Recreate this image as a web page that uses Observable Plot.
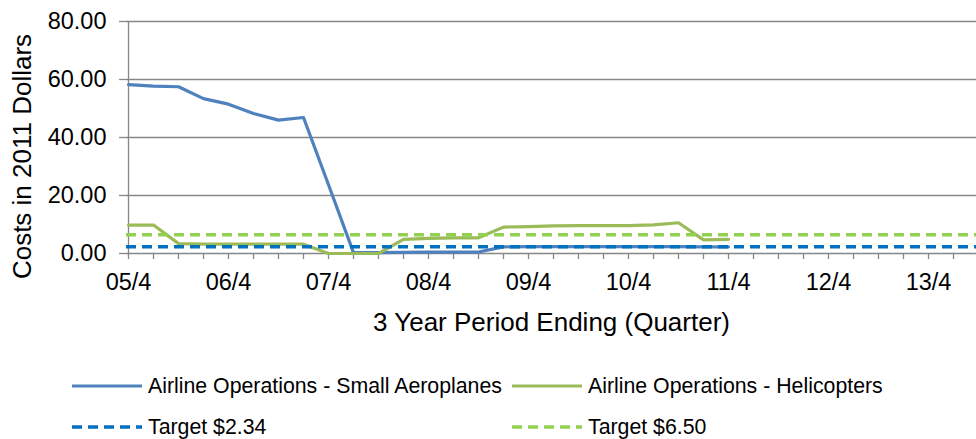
<!DOCTYPE html>
<html>
<head>
<meta charset="utf-8">
<script src="https://cdn.jsdelivr.net/npm/d3@7"></script>
<script src="https://cdn.jsdelivr.net/npm/@observablehq/plot@0.6"></script>
<style>
  html, body { margin: 0; padding: 0; background: #fff; }
  #wrap { position: relative; width: 976px; height: 439px; overflow: hidden; background: #fff;
          font-family: "Liberation Sans", Arial, sans-serif; color: #000; }
  #chart { position: absolute; left: 0; top: 0; }
  .leg { position: absolute; display: flex; align-items: center; font-size: 21.3px; white-space: nowrap; }
  .leg svg { margin-right: 6px; }
</style>
</head>
<body>
<div id="wrap">
  <div id="chart"></div>
  <div id="legend"></div>
</div>
<script>
// Quarter categories (3 year period ending)
const categories = [
  "05/4","06/1","06/2","06/3","06/4","07/1","07/2","07/3","07/4",
  "08/1","08/2","08/3","08/4","09/1","09/2","09/3","09/4",
  "10/1","10/2","10/3","10/4","11/1","11/2","11/3","11/4",
  "12/1","12/2","12/3","12/4","13/1","13/2","13/3","13/4","14/1","14/2"
];
// Labelled x ticks
const xTickLabels = ["05/4","06/4","07/4","08/4","09/4","10/4","11/4","12/4","13/4"];
// Airline Operations - Small Aeroplanes (05/4 .. 11/4)
const smallAeroplanes = [58.2, 57.7, 57.5, 53.4, 51.5, 48.3, 46.0, 46.9, 23.7,
  0.3, 0.3, 0.4, 0.5, 0.5, 0.5, 2.3, 2.4, 2.4, 2.4, 2.4, 2.4, 2.4, 2.4, 2.3, 2.3];
// Airline Operations - Helicopters (05/4 .. 11/4)
const helicopters = [9.8, 9.8, 3.4, 3.2, 3.2, 3.2, 3.2, 3.2, 0.0,
  0.0, 0.0, 4.9, 5.2, 5.4, 5.4, 9.1, 9.3, 9.5, 9.6, 9.6, 9.6, 9.9, 10.6, 4.7, 4.9];
// Targets
const targetSmall = 2.34;
const targetHeli = 6.50;
const yTicks = [0, 20, 40, 60, 80];
const seriesNames = ["Airline Operations - Small Aeroplanes", "Airline Operations - Helicopters", "Target $2.34", "Target $6.50"];
const colors = ["#4F81BD", "#9BBB59", "#0070C0", "#92D050"];

const grid = "#868686";
const font = '"Liberation Sans", Arial, sans-serif';

const plot = Plot.plot({
  width: 976,
  height: 345,
  marginLeft: 126,
  marginRight: 0,
  marginTop: 21,
  marginBottom: 92,
  style: {fontFamily: font, background: "white", overflow: "hidden", color: "#000"},
  x: {type: "point", domain: categories, range: [126, 979], padding: 0},
  y: {domain: [0, 80]},
  marks: [
    Plot.gridY({ticks: yTicks, stroke: grid, strokeOpacity: 1, strokeWidth: 1.3}),
    Plot.ruleX([categories[0]], {stroke: grid, strokeWidth: 1.3}),
    Plot.axisY({ticks: yTicks, tickFormat: () => "", tickSize: 7, stroke: grid, strokeWidth: 1.3, label: null}),
    Plot.axisX({tickFormat: () => "", tickSize: 6, stroke: grid, strokeWidth: 1.3, label: null}),
    Plot.text(yTicks, {y: d => d, text: d => d.toFixed(2), frameAnchor: "left", textAnchor: "end", lineAnchor: "middle", dx: -20, fontSize: 23.5, fill: "#000"}),
    Plot.text(xTickLabels, {x: d => d, text: d => d, frameAnchor: "bottom", textAnchor: "middle", lineAnchor: "middle", dy: 29, fontSize: 23.5, fill: "#000"}),
    Plot.line(smallAeroplanes, {x: (d, i) => categories[i], y: d => d, stroke: colors[0], strokeWidth: 3.2}),
    Plot.line(helicopters, {x: (d, i) => categories[i], y: d => d, stroke: colors[1], strokeWidth: 3.2}),
    Plot.ruleY([targetSmall], {stroke: colors[2], strokeWidth: 3.5, strokeDasharray: "10 6"}),
    Plot.ruleY([targetHeli], {stroke: colors[3], strokeWidth: 3.5, strokeDasharray: "10 6"}),
    Plot.text(["Costs in 2011 Dollars"], {frameAnchor: "left", rotate: -90, textAnchor: "middle", lineAnchor: "middle", dx: -103.5, dy: 19, fontSize: 26, fill: "#000"}),
    Plot.text(["3 Year Period Ending (Quarter)"], {frameAnchor: "bottom", textAnchor: "middle", lineAnchor: "middle", dy: 69, fontSize: 26, fill: "#000"})
  ]
});
document.getElementById("chart").appendChild(plot);

// Legend (HTML, below the plot)
const legendPos = [
  {left: 72, top: 386}, {left: 512, top: 386},
  {left: 72, top: 427}, {left: 512, top: 427}
];
const legend = document.getElementById("legend");
seriesNames.forEach((name, i) => {
  const div = document.createElement("div");
  div.className = "leg";
  div.style.left = legendPos[i].left + "px";
  div.style.top = (legendPos[i].top - 14) + "px";
  div.style.height = "28px";
  const dash = i >= 2 ? 'stroke-dasharray="10 6"' : "";
  div.innerHTML = `<svg width="70" height="8"><line x1="0" x2="70" y1="4" y2="4" stroke="${colors[i]}" stroke-width="${i >= 2 ? 3.5 : 3.2}" ${dash}/></svg><span>${name}</span>`;
  legend.appendChild(div);
});
</script>
</body>
</html>
